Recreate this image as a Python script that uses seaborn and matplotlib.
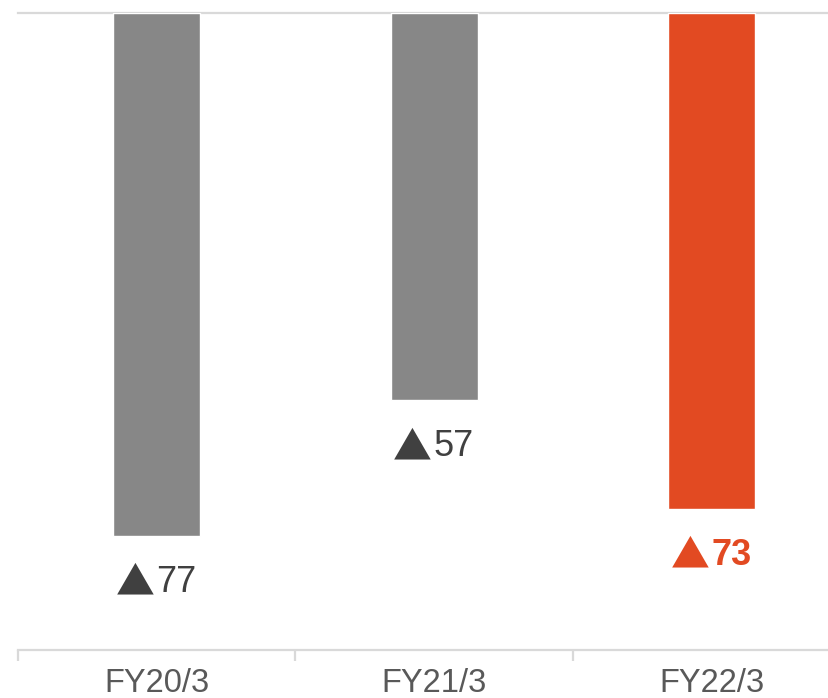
import matplotlib
matplotlib.use("Agg")
import matplotlib.pyplot as plt
from matplotlib.ticker import FixedLocator
import seaborn as sns
import pandas as pd

# Fiscal-year results (losses shown as negative values, "▲" marks a loss)
periods = ["FY20/3", "FY21/3", "FY22/3"]
values = [-77, -57, -73]
loss_mark = "▲"
amounts = ["77", "57", "73"]
bar_colors = ["#878787", "#878787", "#E24A22"]
label_colors = ["#404040", "#404040", "#E24A22"]
label_weights = ["normal", "normal", "bold"]

sns.set_theme(style="white")
plt.rcParams["font.family"] = ["Liberation Sans", "DejaVu Sans"]

W, H = 829, 698
fig = plt.figure(figsize=(W / 100, H / 100), dpi=100)
ax = fig.add_axes([18 / W, 48 / H, 832.5 / W, 637 / H])

df = pd.DataFrame({"period": periods, "value": values})
sns.barplot(data=df, x="period", y="value", hue="period", palette=bar_colors,
            width=0.313, saturation=1, legend=False, ax=ax, zorder=3)

ax.set_xlim(-0.5, 2.5)
ax.set_ylim(-93.8, 0)
ax.set_xlabel("")
ax.set_ylabel("")
ax.set_yticks([])

grid_color = "#D9D9D9"
for side in ["left", "right"]:
    ax.spines[side].set_visible(False)
for side in ["top", "bottom"]:
    ax.spines[side].set_visible(True)
    ax.spines[side].set_color(grid_color)
    ax.spines[side].set_linewidth(1.6)

# category separators as minor ticks on the baseline
ax.xaxis.set_minor_locator(FixedLocator([-0.5, 0.5, 1.5, 2.5]))
ax.tick_params(axis="x", which="minor", bottom=True, length=8, width=1.6,
               color=grid_color, direction="out")
ax.tick_params(axis="x", which="major", length=0, pad=13,
               labelsize=23.5, labelcolor="#595959")

# value labels: a large loss triangle followed by the amount
for i, (v, amt, c, w) in enumerate(zip(values, amounts, label_colors, label_weights)):
    ax.annotate(loss_mark, xy=(i, v), xytext=(-1.5, -42.5), textcoords="offset points",
                ha="right", va="baseline", fontsize=28, color=c,
                family=["Noto Sans CJK JP", "DejaVu Sans"])
    ax.annotate(amt, xy=(i, v), xytext=(-0.5, -40.5), textcoords="offset points",
                ha="left", va="baseline", fontsize=26, color=c, fontweight=w)

fig.savefig("out.png", dpi=100)
